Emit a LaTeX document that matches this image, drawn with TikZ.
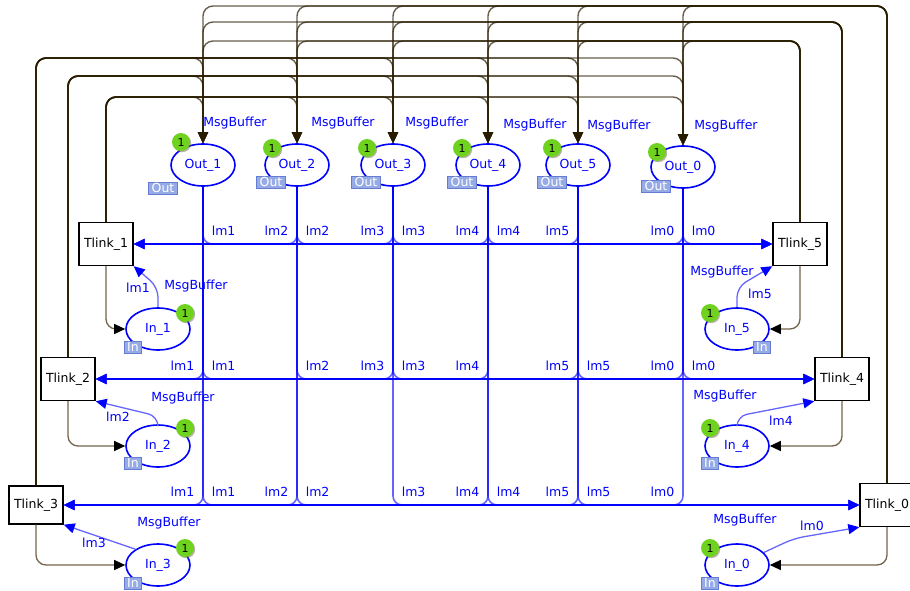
\documentclass[tikz,border=0pt]{standalone}
\usepackage{fontspec}
\setmainfont{DejaVu Sans}
\usetikzlibrary{arrows.meta,shapes.geometric,shadows}
\definecolor{NetBlue}{RGB}{0,0,255}
\definecolor{ArcBrown}{RGB}{40,28,0}
\definecolor{InkBrown}{RGB}{115,100,75}
\definecolor{TokenGreen}{RGB}{110,210,30}
\definecolor{TagBlue}{RGB}{150,170,230}
\definecolor{TagEdge}{RGB}{100,125,210}

\tikzset{
  place/.style={ellipse,draw=NetBlue,line width=1.6pt,fill=white,minimum width=64pt,minimum height=42pt,inner sep=0pt,text=NetBlue},
  trans/.style={rectangle,draw=black,line width=1.4pt,fill=white,minimum width=54pt,minimum height=43pt,inner sep=0pt},
  token/.style={circle,fill=TokenGreen,minimum size=18pt,inner sep=0pt,font=\fontsize{11}{11}\selectfont,
    drop shadow={shadow xshift=1.2pt,shadow yshift=-1.2pt,fill=InkBrown,opacity=0.5}},
  porttag/.style={rectangle,fill=TagBlue,draw=TagEdge,line width=0.8pt,text=white,inner xsep=3pt,inner ysep=1pt,text height=9pt,text depth=1pt},
  colset/.style={text=NetBlue,inner sep=0pt},
  inscr/.style={text=NetBlue,inner sep=0pt,opacity=1},
  lblL/.style={inscr,pos=0.5,anchor=south east,xshift=-8pt,yshift=8pt},
  lblR/.style={inscr,pos=0.5,anchor=south west,xshift=8pt,yshift=8pt},
  tarc/.style={draw=ArcBrown,opacity=0.7,line width=1.4pt,rounded corners=10pt,-{Triangle[length=11pt,width=10pt]}},
  oarc/.style={draw=NetBlue,opacity=0.6,line width=1.6pt,rounded corners=9pt,-{Triangle[length=11pt,width=10pt]}},
  inarc/.style={draw=NetBlue!60,line width=1.3pt,rounded corners=10pt,-{Triangle[length=11pt,width=10pt,color=NetBlue]}},
  backarc/.style={draw=InkBrown,line width=1.3pt,rounded corners=10pt,-{Triangle[length=11pt,width=10pt,color=black]}}
}

\begin{document}
\begin{tikzpicture}[x=1pt,y=-1pt,font=\fontsize{12.5}{14}\selectfont]
  \useasboundingbox (0,0) rectangle (910,591);

  % output buffers
  \node[place] (o1) at (203,165) {Out\_1};
  \node[place] (o2) at (297,165) {Out\_2};
  \node[place] (o3) at (393,165) {Out\_3};
  \node[place] (o4) at (488,165) {Out\_4};
  \node[place] (o5) at (578,165) {Out\_5};
  \node[place] (o0) at (683,167) {Out\_0};

  % input buffers
  \node[place] (i1) at (158,329) {In\_1};
  \node[place] (i2) at (158,446) {In\_2};
  \node[place] (i3) at (158,565) {In\_3};
  \node[place] (i5) at (737,329) {In\_5};
  \node[place] (i4) at (737,446) {In\_4};
  \node[place] (i0) at (737,565) {In\_0};

  % link transitions
  \node[trans] (t1) at (106,244) {Tlink\_1};
  \node[trans] (t2) at (68,379) {Tlink\_2};
  \node[trans,minimum height=38pt] (t3) at (36,505) {Tlink\_3};
  \node[trans] (t5) at (800,244) {Tlink\_5};
  \node[trans] (t4) at (842,379) {Tlink\_4};
  \node[trans] (t0) at (887,505) {Tlink\_0};

  % heights of the top bundles
  \coordinate (lv3) at (0,58);
  \coordinate (lv2) at (0,76);
  \coordinate (lv1) at (0,97);
  \coordinate (lv5) at (0,41);
  \coordinate (lv4) at (0,22);
  \coordinate (lv0) at (0,6);

  % links to the output buffers
  \foreach \o in {o1,o2,o3,o4,o5,o0}{
    \draw[tarc] (t1.north) |- (\o.north |- lv1) -- (\o.north);
    \draw[tarc] (t2.north) |- (\o.north |- lv2) -- (\o.north);
    \draw[tarc] (t3.north) |- (\o.north |- lv3) -- (\o.north);
    \draw[tarc] (t5.north) |- (\o.north |- lv5) -- (\o.north);
    \draw[tarc] (t4.north) |- (\o.north |- lv4) -- (\o.north);
    \draw[tarc] (t0.north) |- (\o.north |- lv0) -- (\o.north);
  }

  % output buffers to the links
  \foreach \k in {2,3,4,5,0} \draw[oarc] (o\k.south) |- node[lblL] (ra\k) {lm\k} (t1.east);
  \foreach \k in {1,2,3,4,0} \draw[oarc] (o\k.south) |- node[lblR] (rb\k) {lm\k} (t5.west);
  \foreach \k in {1,3,4,5,0} \draw[oarc] (o\k.south) |- node[lblL] (rc\k) {lm\k} (t2.east);
  \foreach \k in {1,2,3,5,0} \draw[oarc] (o\k.south) |- node[lblR] (rd\k) {lm\k} (t4.west);
  \foreach \k in {1,2,4,5,0} \draw[oarc] (o\k.south) |- node[lblL] (re\k) {lm\k} (t3.east);
  \foreach \k in {1,2,3,4,5} \draw[oarc] (o\k.south) |- node[lblR] (rf\k) {lm\k} (t0.west);

  % input buffers to and from the links
  \draw[inarc] (i1.north) -- ++(0,-20) -- (t1.south east);
  \draw[inarc] (i5.north) -- ++(0,-20) -- (t5.south west);
  \draw[inarc] (i2.north) -- ++(0,-8) -- (t2.south east);
  \draw[inarc] (i4.north) -- ++(0,-8) -- (t4.south west);
  \draw[inarc] (i3.145) -- (t3.south east);
  \draw[inarc] (i0.25) -- ++(30,-14) -- (t0.south west);
  \draw[backarc] (t1.south) |- (i1.west);
  \draw[backarc] (t2.south) |- (i2.west);
  \draw[backarc] (t3.south) |- (i3.west);
  \draw[backarc] (t5.south) |- (i5.east);
  \draw[backarc] (t4.south) |- (i4.east);
  \draw[backarc] (t0.south) |- (i0.east);

  \node[inscr] (n1) at (138,288) {lm1};
  \node[inscr] (n2) at (118,417) {lm2};
  \node[inscr] (n3) at (94,543) {lm3};
  \node[inscr] (n5) at (760,294) {lm5};
  \node[inscr] (n4) at (781,421) {lm4};
  \node[inscr] (n0) at (812,526) {lm0};

  % colour sets
  \node[colset] (co1) at (235,123) {MsgBuffer};
  \node[colset] (co2) at (343,123) {MsgBuffer};
  \node[colset] (co3) at (437,123) {MsgBuffer};
  \node[colset] (co4) at (535,125) {MsgBuffer};
  \node[colset] (co5) at (619,126) {MsgBuffer};
  \node[colset] (co0) at (726,126) {MsgBuffer};
  \node[colset] (ci1) at (196,286) {MsgBuffer};
  \node[colset] (ci2) at (183,398) {MsgBuffer};
  \node[colset] (ci3) at (169,523) {MsgBuffer};
  \node[colset] (ci5) at (722,272) {MsgBuffer};
  \node[colset] (ci4) at (725,396) {MsgBuffer};
  \node[colset] (ci0) at (745,520) {MsgBuffer};

  % tokens
  \node[token] (ko1) at (181,142) {1};
  \node[token] (ko2) at (272,148) {1};
  \node[token] (ko3) at (367,148) {1};
  \node[token] (ko4) at (462,148) {1};
  \node[token] (ko5) at (552,148) {1};
  \node[token] (ko0) at (657,152) {1};
  \node[token] (ki1) at (185,313) {1};
  \node[token] (ki2) at (185,428) {1};
  \node[token] (ki3) at (185,548) {1};
  \node[token] (ki5) at (710,313) {1};
  \node[token] (ki4) at (710,428) {1};
  \node[token] (ki0) at (710,548) {1};

  % port tags
  \node[porttag] (po1) at (163,188) {Out};
  \node[porttag] (po2) at (271,182) {Out};
  \node[porttag] (po3) at (366,182) {Out};
  \node[porttag] (po4) at (462,182) {Out};
  \node[porttag] (po5) at (552,182) {Out};
  \node[porttag] (po0) at (656,186) {Out};
  \node[porttag] (pi1) at (133,347) {In};
  \node[porttag] (pi2) at (133,463) {In};
  \node[porttag] (pi3) at (133,583) {In};
  \node[porttag] (pi5) at (762,347) {In};
  \node[porttag] (pi4) at (710,463) {In};
  \node[porttag] (pi0) at (710,583) {In};
\end{tikzpicture}
\end{document}
